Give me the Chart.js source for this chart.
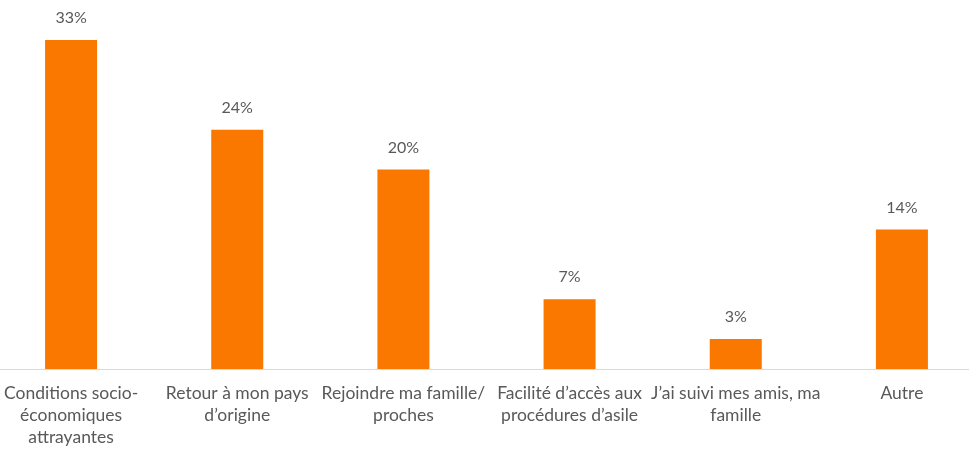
<!DOCTYPE html>
<html>
<head>
<meta charset="utf-8">
<script src="https://cdn.jsdelivr.net/npm/chart.js@4/dist/chart.umd.min.js"></script>
<style>
    html, body { margin: 0; padding: 0; background: #fff; }
    #wrap { position: relative; width: 969px; height: 458px; overflow: hidden; }
    #box { position: absolute; left: -12px; top: 0; width: 997px; height: 454px; }
</style>
</head>
<body>
<div id="wrap"><div id="box"><canvas id="myChart"></canvas></div></div>
<script>
// raisons du choix de la destination
var categories = [
    ['Conditions socio-', 'économiques', 'attrayantes'],
    ['Retour à mon pays', 'd\u2019origine'],
    ['Rejoindre ma famille/', 'proches'],
    ['Facilité d\u2019accès aux', 'procédures d\u2019asile'],
    ['J\u2019ai suivi mes amis, ma', 'famille'],
    ['Autre']
];
var values = [33, 24, 20, 7, 3, 14];

var orange = '#FA7700';
var textColor = '#595959';
var fontFamily = "Lato, 'Open Sans', sans-serif";

// etiquettes de valeur au-dessus des barres
var valueLabels = {
    id: 'valueLabels',
    afterDatasetsDraw: function (chart) {
        var ctx = chart.ctx;
        var meta = chart.getDatasetMeta(0);
        ctx.save();
        ctx.font = '16px ' + fontFamily;
        ctx.fillStyle = textColor;
        ctx.textAlign = 'center';
        ctx.textBaseline = 'middle';
        meta.data.forEach(function (bar, i) {
            ctx.fillText(values[i] + '%', bar.x, bar.y - 22);
        });
        ctx.restore();
    }
};

var ctx = document.getElementById('myChart').getContext('2d');

new Chart(ctx, {
    type: 'bar',
    data: {
        labels: categories,
        datasets: [{
            data: values,
            backgroundColor: orange,
            borderWidth: 0,
            categoryPercentage: 1,
            barPercentage: 0.313
        }]
    },
    options: {
        responsive: true,
        maintainAspectRatio: false,
        animation: false,
        layout: { padding: { top: 0, bottom: 0 } },
        plugins: {
            legend: { display: false },
            tooltip: { enabled: false }
        },
        scales: {
            x: {
                grid: { display: false },
                border: { color: '#D9D9D9', width: 1 },
                ticks: {
                    color: textColor,
                    padding: 5.5,
                    maxRotation: 0,
                    autoSkip: false,
                    font: { family: fontFamily, size: 17.5, lineHeight: 1.257 }
                }
            },
            y: {
                display: false,
                min: 0,
                max: 37.0
            }
        }
    },
    plugins: [valueLabels]
});
</script>
</body>
</html>
